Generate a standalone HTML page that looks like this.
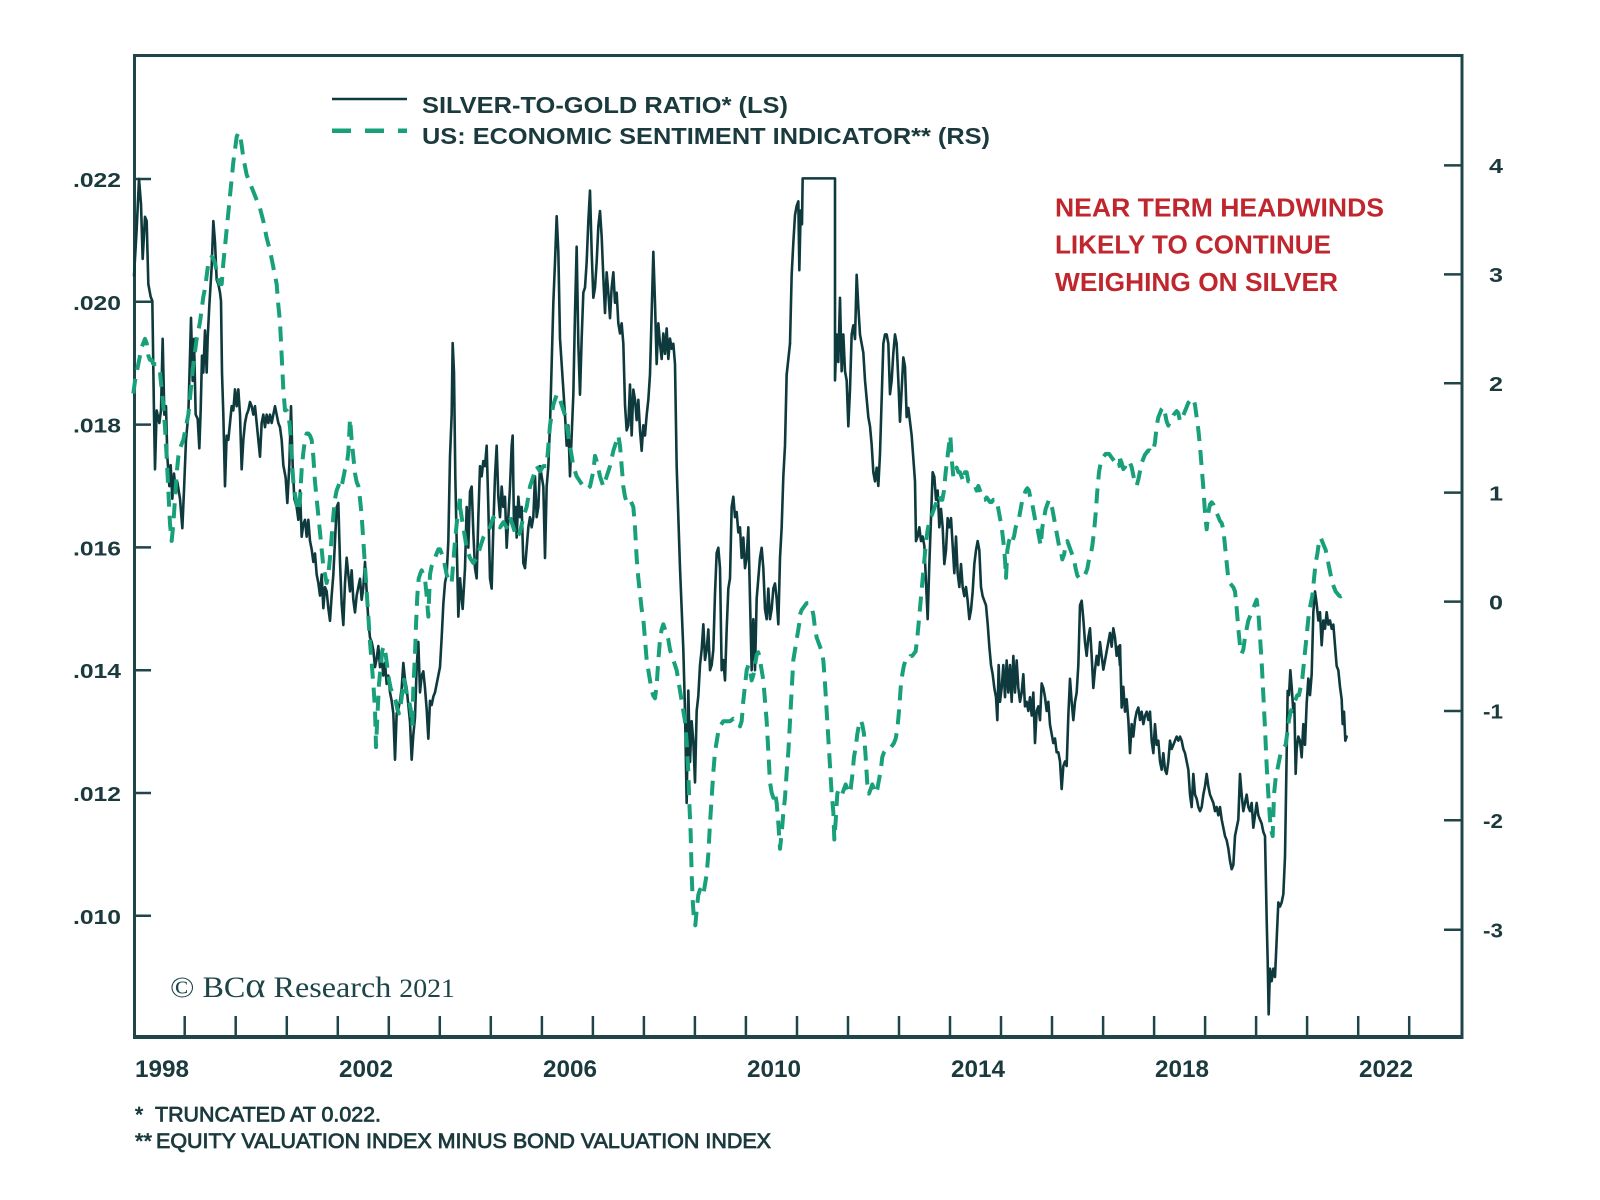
<!DOCTYPE html>
<html>
<head>
<meta charset="utf-8">
<style>
  html,body{margin:0;padding:0;background:#fff;}
  body{width:1600px;height:1200px;overflow:hidden;}
  svg{display:block;}
  .ax{font-family:"Liberation Sans",Arial,sans-serif;font-weight:bold;fill:#1b3a3d;}
  .dk{fill:none;stroke:#0f3a3d;stroke-width:2.6;stroke-linejoin:round;stroke-linecap:round;vector-effect:non-scaling-stroke;}
  .gr{fill:none;stroke:#17a079;stroke-width:4;stroke-dasharray:15 9;stroke-linejoin:round;vector-effect:non-scaling-stroke;}
</style>
</head>
<body>
<svg width="1600" height="1200" viewBox="0 0 1600 1200" xmlns="http://www.w3.org/2000/svg">
  <rect x="0" y="0" width="1600" height="1200" fill="#ffffff"/>

  <!-- frame -->
  <g stroke="#1f4548" fill="none">
    <line x1="134.5" y1="55.5" x2="1462" y2="55.5" stroke-width="3"/>
    <line x1="134.5" y1="54" x2="134.5" y2="1038" stroke-width="3"/>
    <line x1="1462" y1="54" x2="1462" y2="1038" stroke-width="3"/>
    <line x1="133" y1="1037" x2="1463.5" y2="1037" stroke-width="4"/>
  </g>

  <!-- x ticks -->
  <g stroke="#1f4548" stroke-width="2.5">
    <line x1="184.7" y1="1016" x2="184.7" y2="1037"/>
    <line x1="235.7" y1="1016" x2="235.7" y2="1037"/>
    <line x1="286.8" y1="1016" x2="286.8" y2="1037"/>
    <line x1="337.8" y1="1016" x2="337.8" y2="1037"/>
    <line x1="388.8" y1="1016" x2="388.8" y2="1037"/>
    <line x1="439.8" y1="1016" x2="439.8" y2="1037"/>
    <line x1="490.8" y1="1016" x2="490.8" y2="1037"/>
    <line x1="541.9" y1="1016" x2="541.9" y2="1037"/>
    <line x1="592.9" y1="1016" x2="592.9" y2="1037"/>
    <line x1="643.9" y1="1016" x2="643.9" y2="1037"/>
    <line x1="694.9" y1="1016" x2="694.9" y2="1037"/>
    <line x1="745.9" y1="1016" x2="745.9" y2="1037"/>
    <line x1="797.0" y1="1016" x2="797.0" y2="1037"/>
    <line x1="848.0" y1="1016" x2="848.0" y2="1037"/>
    <line x1="899.0" y1="1016" x2="899.0" y2="1037"/>
    <line x1="950.0" y1="1016" x2="950.0" y2="1037"/>
    <line x1="1001.0" y1="1016" x2="1001.0" y2="1037"/>
    <line x1="1052.0" y1="1016" x2="1052.0" y2="1037"/>
    <line x1="1103.1" y1="1016" x2="1103.1" y2="1037"/>
    <line x1="1154.1" y1="1016" x2="1154.1" y2="1037"/>
    <line x1="1205.1" y1="1016" x2="1205.1" y2="1037"/>
    <line x1="1256.1" y1="1016" x2="1256.1" y2="1037"/>
    <line x1="1307.1" y1="1016" x2="1307.1" y2="1037"/>
    <line x1="1358.2" y1="1016" x2="1358.2" y2="1037"/>
    <line x1="1409.2" y1="1016" x2="1409.2" y2="1037"/>
  </g>

  <!-- left ticks -->
  <g stroke="#1f4548" stroke-width="2.5">
    <line x1="134" y1="179" x2="151" y2="179"/>
    <line x1="134" y1="301.8" x2="151" y2="301.8"/>
    <line x1="134" y1="424.6" x2="151" y2="424.6"/>
    <line x1="134" y1="547.4" x2="151" y2="547.4"/>
    <line x1="134" y1="670.2" x2="151" y2="670.2"/>
    <line x1="134" y1="793" x2="151" y2="793"/>
    <line x1="134" y1="915.8" x2="151" y2="915.8"/>
  </g>
  <!-- right ticks -->
  <g stroke="#1f4548" stroke-width="2.5">
    <line x1="1444" y1="165.4" x2="1462" y2="165.4"/>
    <line x1="1444" y1="274.4" x2="1462" y2="274.4"/>
    <line x1="1444" y1="383.2" x2="1462" y2="383.2"/>
    <line x1="1444" y1="492.6" x2="1462" y2="492.6"/>
    <line x1="1444" y1="601.6" x2="1462" y2="601.6"/>
    <line x1="1444" y1="711" x2="1462" y2="711"/>
    <line x1="1444" y1="820.2" x2="1462" y2="820.2"/>
    <line x1="1444" y1="929.8" x2="1462" y2="929.8"/>
  </g>

  <!-- left labels -->
  <g class="ax" font-size="20" text-anchor="end">
    <text x="121" y="187" textLength="48" lengthAdjust="spacingAndGlyphs">.022</text>
    <text x="121" y="309.8" textLength="48" lengthAdjust="spacingAndGlyphs">.020</text>
    <text x="121" y="432.6" textLength="48" lengthAdjust="spacingAndGlyphs">.018</text>
    <text x="121" y="555.4" textLength="48" lengthAdjust="spacingAndGlyphs">.016</text>
    <text x="121" y="678.2" textLength="48" lengthAdjust="spacingAndGlyphs">.014</text>
    <text x="121" y="801" textLength="48" lengthAdjust="spacingAndGlyphs">.012</text>
    <text x="121" y="923.8" textLength="48" lengthAdjust="spacingAndGlyphs">.010</text>
  </g>
  <!-- right labels -->
  <g class="ax" font-size="20" text-anchor="end">
    <text x="1503" y="173" textLength="14" lengthAdjust="spacingAndGlyphs">4</text>
    <text x="1503" y="282" textLength="14" lengthAdjust="spacingAndGlyphs">3</text>
    <text x="1503" y="391" textLength="14" lengthAdjust="spacingAndGlyphs">2</text>
    <text x="1503" y="500.3" textLength="14" lengthAdjust="spacingAndGlyphs">1</text>
    <text x="1503" y="609.3" textLength="14" lengthAdjust="spacingAndGlyphs">0</text>
    <text x="1503" y="718.7" textLength="20" lengthAdjust="spacingAndGlyphs">-1</text>
    <text x="1503" y="828" textLength="20" lengthAdjust="spacingAndGlyphs">-2</text>
    <text x="1503" y="937.5" textLength="20" lengthAdjust="spacingAndGlyphs">-3</text>
  </g>

  <!-- x labels -->
  <g class="ax" font-size="24">
    <text x="135" y="1077" textLength="54" lengthAdjust="spacingAndGlyphs">1998</text>
    <text x="339" y="1077" textLength="54" lengthAdjust="spacingAndGlyphs">2002</text>
    <text x="543" y="1077" textLength="54" lengthAdjust="spacingAndGlyphs">2006</text>
    <text x="747" y="1077" textLength="54" lengthAdjust="spacingAndGlyphs">2010</text>
    <text x="951" y="1077" textLength="54" lengthAdjust="spacingAndGlyphs">2014</text>
    <text x="1155" y="1077" textLength="54" lengthAdjust="spacingAndGlyphs">2018</text>
    <text x="1359" y="1077" textLength="54" lengthAdjust="spacingAndGlyphs">2022</text>
  </g>

  <!-- legend -->
  <line x1="332" y1="99" x2="407" y2="99" stroke="#0f3a3d" stroke-width="2.6"/>
  <line x1="332" y1="130.7" x2="407" y2="130.7" stroke="#17a079" stroke-width="4.5" stroke-dasharray="19 14"/>
  <g class="ax" font-size="23">
    <text x="422" y="113" textLength="366" lengthAdjust="spacingAndGlyphs">SILVER-TO-GOLD RATIO* (LS)</text>
    <text x="422" y="144" textLength="568" lengthAdjust="spacingAndGlyphs">US: ECONOMIC SENTIMENT INDICATOR** (RS)</text>
  </g>

  <!-- annotation -->
  <g font-family="Liberation Sans, Arial, sans-serif" font-weight="bold" font-size="26" fill="#c0262d">
    <text x="1055" y="216.6" textLength="329" lengthAdjust="spacingAndGlyphs">NEAR TERM HEADWINDS</text>
    <text x="1055" y="253.7" textLength="276" lengthAdjust="spacingAndGlyphs">LIKELY TO CONTINUE</text>
    <text x="1055" y="290.9" textLength="283" lengthAdjust="spacingAndGlyphs">WEIGHING ON SILVER</text>
  </g>

  <!-- BCA -->
  <text x="170" y="997" font-family="Liberation Serif, serif" font-size="30" fill="#1d4548" textLength="285" lengthAdjust="spacingAndGlyphs">© BC<tspan font-size="36">α</tspan> Research <tspan font-size="26">2021</tspan></text>

  <!-- footnotes -->
  <g font-family="Liberation Sans, Arial, sans-serif" font-size="21" fill="#1b3a3d" stroke="#1b3a3d" stroke-width="0.8">
    <text x="135" y="1121.7">*</text>
    <text x="155" y="1121.7" textLength="226" lengthAdjust="spacingAndGlyphs">TRUNCATED AT 0.022.</text>
    <text x="135" y="1148" textLength="17" lengthAdjust="spacingAndGlyphs">**</text>
    <text x="156" y="1148" textLength="615" lengthAdjust="spacingAndGlyphs">EQUITY VALUATION INDEX MINUS BOND VALUATION INDEX</text>
  </g>

  <!-- ===== SILVER-TO-GOLD (dark) ===== -->
  <g transform="translate(130 120) scale(0.333333 0.420875)">
    <polyline class="dk" points="12,370 20,260 27,140 33,200 38,330 45,230 50,240 55,390 62,420 67,430 72,700 75,830 80,690 88,720 93,690 98,520 103,700 108,680 112,800 118,870 122,820 127,900 132,840 137,880 142,860 150,900 157,970 162,880 168,760 175,700 180,560 183,470 188,620 192,520 197,700 203,710 208,780 212,690 216,560 220,600 225,500 230,600 233,520 238,440 245,350 250,240 255,290 260,380 265,390 270,410 273,430 276,600 280,700 285,870 290,750 295,760 300,720 305,680 310,690 315,640 320,680 325,640 330,700 335,830 340,760 345,720 350,700 355,690 360,670 365,680 370,700 375,680 380,720 385,760 390,800 395,720 400,700 405,730 410,700 415,720 420,700 425,720 430,700 435,680 440,700 445,720 450,730 455,760 460,820 467,850 472,910 478,820 483,680 488,820 493,900 500,920 505,950 510,880 515,990 520,960 525,950 530,990 535,950 540,1000 545,1020 550,1050 555,1030 560,1080 565,1100 570,1130 575,1080 580,1160 585,1110 590,1120 595,1160 600,1190 605,1130 610,1080 615,1000 620,920 625,910 630,1050 635,1150 640,1200 645,1100 650,1040 655,1080 660,1120 665,1070 670,1140 675,1170 680,1130 685,1110 690,1090 695,1140 700,1110 705,1050 710,1120 715,1190 720,1230 725,1240 730,1260 735,1300 740,1280 745,1250 750,1300 755,1280 760,1320 765,1290 770,1340 775,1320 780,1360 785,1380 790,1410 795,1520 800,1410 805,1400 810,1380 815,1350 820,1290 825,1330 830,1350 835,1390 840,1430 845,1520 850,1460 855,1420 860,1300 865,1240 870,1360 875,1320 880,1310 885,1350 890,1400 895,1470 900,1380 905,1390 910,1370 915,1360 920,1340 925,1320 930,1300 935,1230 940,1150 945,1100 950,1080 955,1000 960,800 965,700 968,530 972,600 976,850 980,1000 985,1180 990,1100"/>
  </g>
  <polyline class="dk" points="460,583 460,578.4"/>
  <g transform="translate(460 160) scale(0.333333 0.510204)">
    <polyline class="dk" points="0,820 8,880 15,800 20,680 25,760 30,650 35,640 40,730 45,800 50,820 55,700 60,600 65,620 70,590 75,600 80,560 85,680 90,820 95,840 100,720 105,620 110,560 115,660 120,700 125,640 130,680 135,660 140,760 145,700 150,640 155,560 158,540 162,720 167,680 170,740 175,660 180,700 185,680 190,790 195,800 200,760 205,720 210,700 215,720 220,700 225,620 230,700 235,680 240,600 245,620 250,640 255,780 260,640 265,600 270,520 275,400 280,280 285,200 290,110 295,180 300,350 305,400 310,450 315,500 320,560 325,520 330,620 335,540 340,460 345,300 350,170 355,360 360,460 365,350 370,260 375,250 380,200 385,120 390,60 395,180 400,270 405,250 410,200 415,130 420,100 425,150 430,230 435,300 440,220 445,260 450,310 455,250 460,220 465,280 470,260 475,320 480,340 485,320 490,360 495,480 500,530 505,520 510,440 515,540 520,450 525,470 530,510 535,470 540,530 545,570 550,520 555,540 560,500 565,470 570,420 575,300 580,180 585,280 590,400 595,320 600,360 605,390 610,340 615,380 620,330 625,390 630,350 635,370 640,360 645,400 650,600 655,700 660,800 665,880 670,960 675,1080 680,1260 685,1040 690,1180 695,1100 700,1140 705,1220 710,1080 715,1050 720,990 725,960 730,910 735,980 740,960 745,920 750,1000 755,990 760,960 765,850 770,770 775,760 780,800 785,1000 790,980 795,1020 800,920 805,840 810,820 815,680 820,660 825,700 830,690 835,730 840,720 845,780 850,740 855,800 860,780 865,720 870,860 875,1000 880,900 885,1000 890,860 895,820 900,780 905,760 910,800 915,880 920,900 925,840 930,900 935,880 940,840 945,830 950,860 955,910 960,780 965,720 970,620 975,560 980,420"/>
  </g>
  <polyline class="dk" points="786.7,374.3 790,343.7"/>
  <g transform="translate(790 160) scale(0.333333 0.459137)">
    <polyline class="dk" points="0,400 5,250 10,180 15,120 20,100 25,90 28,240 32,110 36,140 38,40 135,40 135,480 140,380 145,440 150,300 155,460 160,380 165,460 170,480 175,580 180,500 185,380 190,360 195,390 200,250 205,320 210,380 215,400 220,420 225,480 230,520 235,560 240,580 245,620 250,680 255,700 260,670 265,710 270,640 275,520 280,400 285,380 290,380 295,400 300,510 305,480 310,420 315,380 320,400 325,480 330,570 335,500 340,430 345,450 350,560 355,540 360,570 365,600 370,650 375,700 378,830 383,820 388,800 393,830 398,820 403,840 408,920 413,1000 418,880 423,780 428,680 433,690 438,740 443,720 448,800 453,760 458,800 463,880 468,850 473,780 478,800 483,780 488,840 493,900 498,820 503,900 508,930 513,880 518,930 523,950 528,930 533,960 538,1000 543,980 548,940 553,880 558,850 563,830 568,850 573,930 578,950 583,960 588,970 593,1010 598,1060 603,1100 608,1120 613,1150 618,1170 622,1220 626,1100 630,1180 635,1150 640,1100 645,1170 650,1090 655,1160 660,1100 665,1180 670,1080 675,1160 680,1090 685,1150 690,1180 695,1160 700,1120 705,1190 710,1180 715,1200 720,1170 725,1210 730,1160 735,1270 740,1200 745,1190 750,1220 755,1140 760,1150 765,1170 770,1200 775,1180 780,1230 785,1250 790,1270 795,1260 800,1290 805,1290 810,1310 815,1370 820,1320 825,1310 830,1320 835,1210 840,1130 845,1180 850,1220 855,1180 860,1160 865,1100 870,970 875,960 880,1000 885,1050 890,1080 895,1040 900,1020 905,1080 910,1150 915,1110 920,1080 925,1100 930,1050 935,1080 940,1110 945,1090 950,1070 955,1050 960,1030 965,1060 970,1020 975,1040 980,1080 985,1060 990,1100"/>
  </g>
  <polyline class="dk" points="1120,665 1120,645.3"/>
  <g transform="translate(1120 380) scale(0.333333 0.414594)">
    <polyline class="dk" points="0,640 5,790 10,740 15,800 20,770 25,820 30,900 35,830 40,860 45,820 50,800 55,790 60,820 65,800 70,830 75,810 80,800 85,820 90,800 95,870 100,900 105,830 110,880 115,870 120,920 125,940 130,900 135,940 140,950 145,920 150,870 155,890 160,880 165,870 170,860 175,870 180,860 185,870 190,890 195,900 200,920 205,940 210,1000 215,1030 220,950 225,1000 230,1010 235,1030 240,1040 245,1030 250,1000 255,980 260,950 265,980 270,1000 275,1010 280,1020 285,1040 290,1030 295,1050 300,1030 305,1060 310,1080 315,1100 320,1110 325,1130 330,1160 335,1180 340,1170 345,1100 350,1080 355,1060 360,950 365,1000 370,1040 375,1020 380,1000 385,1030 390,1040 395,1020 400,1080 405,1050 410,1020 415,1050 420,1060 425,1070 430,1090 435,1100 440,1300 443,1400 446,1530 450,1420 455,1450 460,1420 465,1440 470,1350 475,1260 480,1270 485,1260 490,1240 495,1150 500,900 503,750 507,760 511,700 515,740 520,800 523,780 527,950 530,890 535,860 540,870 545,910 550,830 555,880 560,780 565,720 570,760 575,710 580,560 585,510 590,540 595,580 600,560 605,640 610,580 615,600 620,560 625,590 630,580 635,600 640,590 645,640 650,690 655,700 660,740 665,770 668,830 672,800 676,870 680,860"/>
  </g>

  <!-- ===== ECONOMIC SENTIMENT (green dashed) ===== -->
  <g transform="translate(130 120) scale(0.333333 0.420875)">
    <polyline class="gr" points="10,650 15,620 20,600 25,580 30,560 35,540 40,530 45,520 50,530 55,560 60,570 65,570 70,580 75,580 80,580 85,590 90,600 95,640 100,680 105,730 110,800 115,880 120,960 125,1000 130,960 135,900 140,840 145,800 150,780 155,770 160,760 165,740 170,720 175,700 180,660 185,620 190,580 195,550 200,520 205,500 210,480 215,450 220,420 225,400 230,370 235,340 240,330 245,325 250,330 255,340 260,360 265,380 270,390 275,390 280,340 285,300 290,260 295,220 300,180 305,140 310,100 315,70 320,40 325,30 330,35 335,60 340,90 345,110 350,130 360,150 370,170 380,190 390,210 400,240 410,280 420,310 430,350 440,390 445,440 450,480 455,560 460,640 465,690 470,690 475,700 480,730 485,800 490,860 495,890 500,910 505,930 510,900 515,830 520,790 525,760 530,745 535,745 540,750 545,760 550,800 555,860 560,900 565,940 570,980 575,1020 580,1060 585,1080 590,1100 595,1080 600,1040 605,990 610,940 615,900 620,880 625,870 630,860 635,870 640,850 645,830 650,820 655,790 660,710 665,760 670,800 675,840 680,860 685,870 690,900 695,940 700,1000 705,1060 710,1120 715,1180 720,1240 725,1290 730,1340 735,1400 738,1490 742,1420 747,1340 752,1300 757,1260 762,1250 767,1270 772,1300 777,1330 782,1350 787,1360 792,1370 797,1380 802,1400 807,1410 812,1390 817,1360 822,1330 827,1350 832,1370 837,1380 842,1400 847,1440 850,1350 855,1270 858,1200 862,1130 866,1090 870,1080 875,1070 880,1080 885,1090 890,1130 895,1180 900,1080 905,1060 910,1050 915,1040 920,1030 925,1020 930,1020 935,1030 940,1040 945,1060 950,1080 955,1090 960,1100 965,1100 970,1050 975,1000 980,960 985,930 990,900"/>
  </g>
  <polyline class="gr" points="460,498.8 460,506.9"/>
  <g transform="translate(460 160) scale(0.333333 0.510204)">
    <polyline class="gr" points="0,680 10,720 20,760 30,780 40,790 50,780 60,760 70,740 80,730 90,720 100,700 110,710 120,720 130,710 140,720 150,700 160,720 170,740 180,730 190,700 200,680 210,640 220,620 230,600 240,610 250,600 260,600 265,560 270,520 275,500 280,480 285,470 290,460 295,460 300,470 305,480 310,490 315,500 320,520 325,540 330,560 335,580 340,600 345,610 350,620 360,630 370,640 380,645 390,640 400,610 405,580 410,590 420,620 430,640 440,620 450,600 460,570 470,550 475,540 480,560 485,600 490,640 495,660 500,670 510,665 520,680 525,720 530,780 535,820 540,850 545,880 550,900 555,940 560,980 565,1000 570,1020 575,1040 580,1050 585,1055 590,1030 595,980 600,940 605,920 610,910 615,920 620,930 625,940 630,960 640,980 650,1000 655,1020 660,1040 665,1060 670,1080 675,1100 680,1140 685,1200 688,1260 692,1320 695,1400 698,1450 702,1490 706,1500 710,1470 715,1440 720,1430 725,1440 730,1440 735,1420 740,1400 745,1360 750,1300 755,1250 760,1200 765,1160 770,1140 775,1120 780,1110 790,1100 800,1100 810,1100 820,1095 830,1100 840,1110 845,1100 850,1060 855,1030 860,1000 865,990 870,1000 875,1020 880,1010 885,990 890,970 895,965 900,980 905,1000 910,1020 915,1060 920,1100 925,1160 930,1220 935,1240 940,1250 945,1240 950,1260 955,1300 960,1350 965,1320 970,1280 975,1250 980,1200 985,1160 990,1100 995,1040 1000,980 1005,960 1010,940 1015,920 1020,900"/>
  </g>
  <g transform="translate(790 160) scale(0.333333 0.459137)">
    <polyline class="gr" points="30,990 35,980 40,975 45,970 50,965 55,965 60,970 65,975 70,990 75,1020 80,1040 85,1050 90,1060 95,1070 100,1090 105,1140 110,1200 115,1260 120,1320 125,1380 130,1420 133,1480 137,1440 142,1380 147,1370 152,1380 157,1380 162,1370 167,1360 172,1370 177,1380 182,1370 187,1340 192,1300 197,1280 202,1250 207,1230 212,1220 217,1230 222,1250 227,1300 232,1360 237,1380 242,1370 247,1360 252,1370 257,1380 262,1370 267,1350 272,1330 277,1300 282,1290 287,1285 292,1280 297,1280 302,1280 307,1275 312,1270 317,1260 322,1240 327,1200 332,1150 337,1120 342,1100 347,1090 352,1090 357,1090 362,1080 367,1080 372,1075 377,1070 382,1040 387,1000 392,960 397,920 402,880 407,840 412,810 417,790 422,780 427,770 432,760 437,750 442,740 447,730 452,740 457,740 462,720 467,680 472,650 477,620 481,600 485,650 490,690 495,680 500,670 505,680 510,680 515,690 520,700 525,680 530,680 535,700 540,700 545,700 550,705 555,710 560,720 565,710 570,720 575,730 580,740 585,740 590,735 595,740 600,745 605,745 610,740 620,740 630,780 635,800 640,830 645,870 648,910 652,850 657,830 662,820 667,830 672,820 677,800 682,790 687,780 692,760 697,740 702,730 707,720 712,715 717,720 722,740 727,750 732,770 737,790 742,800 747,820 752,840 757,800 762,780 767,760 772,750 777,740 782,750 787,760 792,780 797,800 802,820 807,840 812,850 817,870 822,860 827,840 832,830 837,840 842,850 847,860 852,870 857,890 862,905 867,910 872,912 877,910 882,908 887,900 892,890 897,870 902,860 907,840 912,810 917,770 922,720 927,680 932,660 937,650 942,645 947,640 952,640 957,640 962,645 967,650 972,655 977,650 982,650 987,660 990,670"/>
  </g>
  <polyline class="gr" points="1120,467.6 1120,458.8"/>
  <g transform="translate(1120 380) scale(0.333333 0.414594)">
    <polyline class="gr" points="0,190 5,200 10,215 15,210 20,200 25,195 30,200 35,210 40,230 45,250 50,255 55,240 60,220 65,200 70,190 75,180 80,175 85,170 90,170 95,175 100,170 105,150 110,110 115,90 120,80 125,70 130,65 135,80 140,100 145,110 150,100 155,95 160,85 165,80 170,75 175,80 180,100 185,95 190,85 195,75 200,65 205,55 210,50 215,45 220,45 225,60 230,90 235,120 240,160 245,210 250,260 255,320 260,360 265,320 270,300 275,295 280,300 285,310 290,320 295,330 300,340 305,345 310,360 315,400 320,440 325,480 330,490 335,495 340,500 345,510 350,550 355,600 360,640 365,660 370,650 375,620 380,600 385,580 390,570 395,560 400,550 405,540 410,530 415,560 420,620 425,680 430,760 435,840 440,930 445,1000 450,1060 455,1090 458,1100 462,1000 467,960 472,940 477,920 482,900 487,890 492,885 497,880 502,850 507,820 512,800 517,790 522,780 527,770 532,760 537,760 542,740 547,720 552,680 557,640 562,600 567,560 572,540 577,520 582,480 587,440 592,420 597,390 602,380 607,390 612,400 617,410 622,430 627,450 632,470 637,490 642,500 647,510 652,515 657,520 662,522 667,520"/>
  </g>
</svg>
</body>
</html>
